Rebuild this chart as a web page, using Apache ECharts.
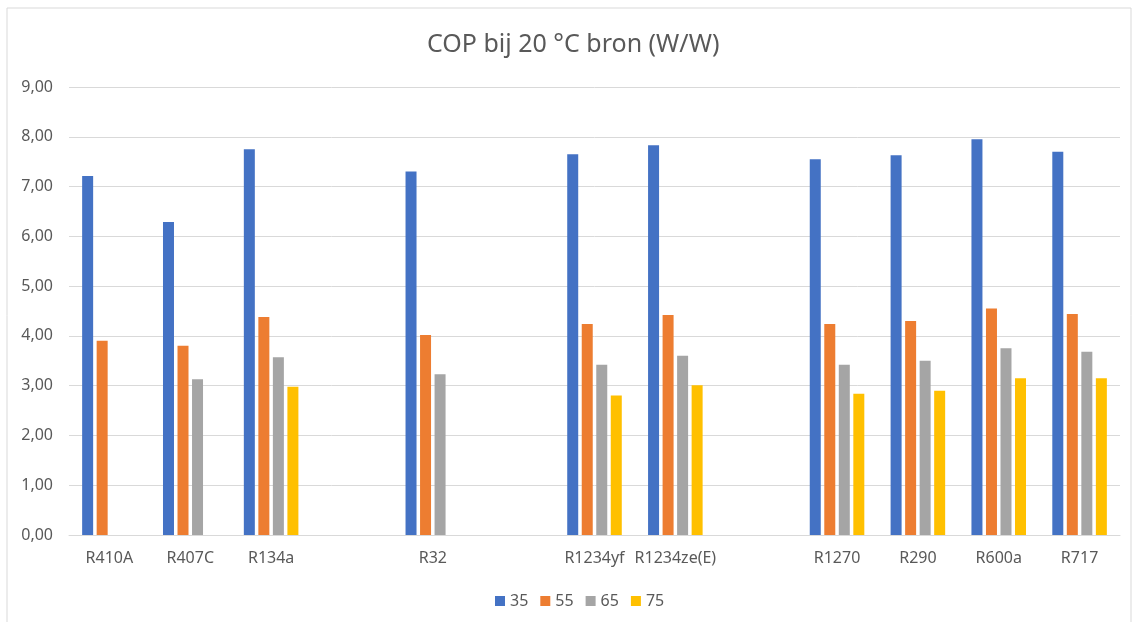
<!DOCTYPE html>
<html>
<head>
<meta charset="utf-8">
<script src="https://cdn.jsdelivr.net/npm/echarts@6/dist/echarts.min.js"></script>
<style>html,body{margin:0;padding:0;background:#fff}#c{width:1133px;height:622px}</style>
</head>
<body>
<div id="c"></div>
<script>
const categories = ['R410A','R407C','R134a','','R32','','R1234yf','R1234ze(E)','','R1270','R290','R600a','R717'];
const s35 = [7.21, 6.29, 7.75, null, 7.30, null, 7.65, 7.83, null, 7.55, 7.63, 7.95, 7.70];
const s55 = [3.90, 3.80, 4.38, null, 4.02, null, 4.24, 4.42, null, 4.24, 4.30, 4.55, 4.44];
const s65 = [null, 3.13, 3.57, null, 3.23, null, 3.42, 3.60, null, 3.42, 3.50, 3.75, 3.68];
const s75 = [null, null, 2.98, null, null, null, 2.80, 3.01, null, 2.84, 2.90, 3.15, 3.15];
const seriesNames = ['35','55','65','75'];
const colors = ['#4472C4','#ED7D31','#A5A5A5','#FFC000'];
const FONT = 'Noto Sans';

const chart = echarts.init(document.getElementById('c'));
const data = [s35, s55, s65, s75];
chart.setOption({
  animation: false,
  textStyle: {fontFamily: FONT},
  title: {text: 'COP bij 20 °C bron (W/W)', left: 422, top: 27,
    textStyle: {fontFamily: FONT, fontSize: 25, fontWeight: 'normal', color: '#595959'}},
  legend: {top: 588, left: 490, itemWidth: 10, itemHeight: 10, itemGap: 12,
    icon: 'rect', textStyle: {fontFamily: FONT, fontSize: 16, color: '#595959'}},
  graphic: [{type: 'rect', shape: {x: 7, y: 8, width: 1124, height: 620},
    style: {fill: 'none', stroke: '#D9D9D9', lineWidth: 1}, silent: true}],
  grid: {left: 69, right: 13, top: 87, bottom: 87},
  xAxis: {type: 'category', data: categories,
    axisLine: {lineStyle: {color: '#D9D9D9'}}, axisTick: {show: false},
    axisLabel: {color: '#595959', fontSize: 16, margin: 15, interval: 0}},
  yAxis: {type: 'value', min: 0, max: 9, interval: 1,
    axisLine: {show: false}, axisTick: {show: false},
    splitLine: {lineStyle: {color: '#D9D9D9'}},
    axisLabel: {color: '#595959', fontSize: 16, margin: 16,
      formatter: v => v.toFixed(2).replace('.', ',')}},
  series: seriesNames.map((n, i) => ({
    name: n, type: 'bar', data: data[i], barWidth: 11, barGap: '32%',
    itemStyle: {color: colors[i]}
  }))
});
</script>
</body>
</html>
